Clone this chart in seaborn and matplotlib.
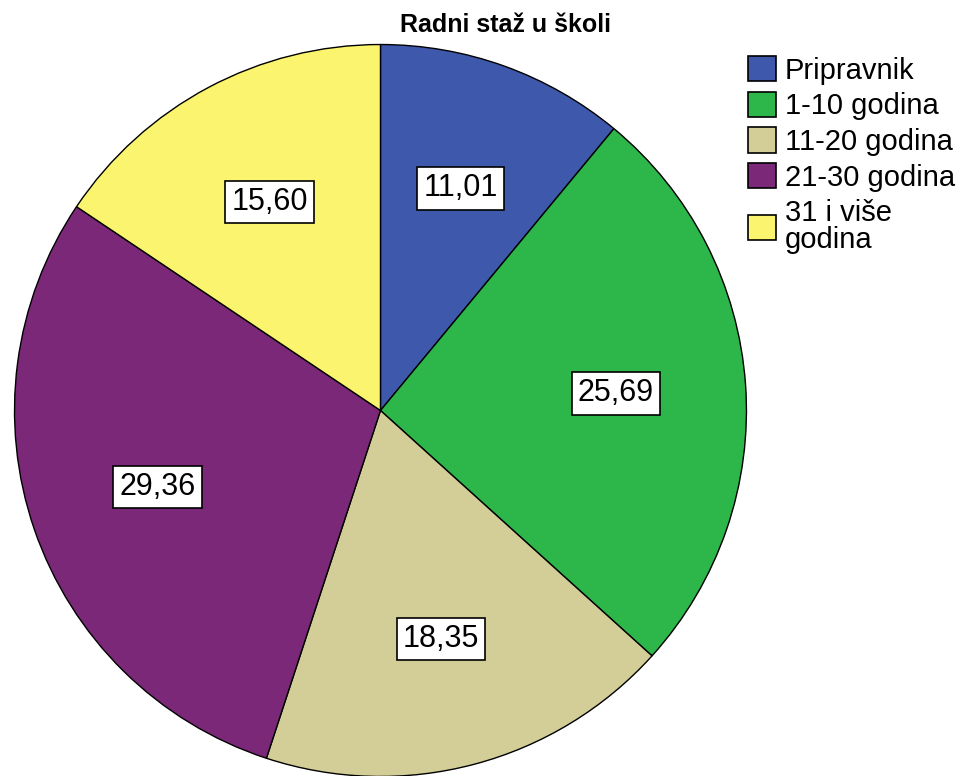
import matplotlib
matplotlib.use("Agg")
import matplotlib.pyplot as plt
import matplotlib.patches as mpatches
import seaborn as sns

# data
categories = ["Pripravnik", "1-10 godina", "11-20 godina", "21-30 godina", "31 i više\ngodina"]
values = [11.01, 25.69, 18.35, 29.36, 15.60]
colors = ["#3E58AC", "#2DB64A", "#D3CE97", "#7B2878", "#FBF46E"]
title = "Radni staž u školi"

sns.set_theme(style="white")
plt.rcParams['font.family'] = ['Liberation Sans', 'DejaVu Sans']
plt.rcParams['text.color'] = 'black'

fig = plt.figure(figsize=(9.65, 7.76), dpi=100)
ax = fig.add_axes([0.01503, -0.00064, 0.7585, 0.9433])

palette = sns.color_palette(colors)
labels = [f"{v:.2f}".replace(".", ",") for v in values]
label_iter = iter(labels)

wedges, texts, autotexts = ax.pie(
    values, colors=palette, startangle=90, counterclock=False,
    autopct=lambda p: next(label_iter), pctdistance=0.645,
    wedgeprops=dict(edgecolor="black", linewidth=1.0),
    textprops=dict(fontsize=22, color="black"))
for t in autotexts:
    t.set_bbox(dict(boxstyle="square,pad=0.2", facecolor="white", edgecolor="black", linewidth=1.2))
ax.set_xlim(-1, 1)
ax.set_ylim(-1, 1)
ax.set_aspect("equal")
ax.axis("off")

fig.text(505 / 965, 1 - 25 / 776, title, ha="center", va="center", fontsize=18, fontweight="bold")

handles = [mpatches.Patch(facecolor=c, edgecolor="black", linewidth=1.2) for c in palette]
leg = fig.legend(handles, categories, loc="upper left", bbox_to_anchor=(748 / 965, 1 - 56 / 776),
                 frameon=False, fontsize=21, borderpad=0, borderaxespad=0,
                 handlelength=0.96, handleheight=0.96, handletextpad=0.3, labelspacing=0.24)
for t in leg.get_texts():
    t.set_linespacing(0.95)
    t.set_color("black")

fig.savefig("out.png", dpi=100)
